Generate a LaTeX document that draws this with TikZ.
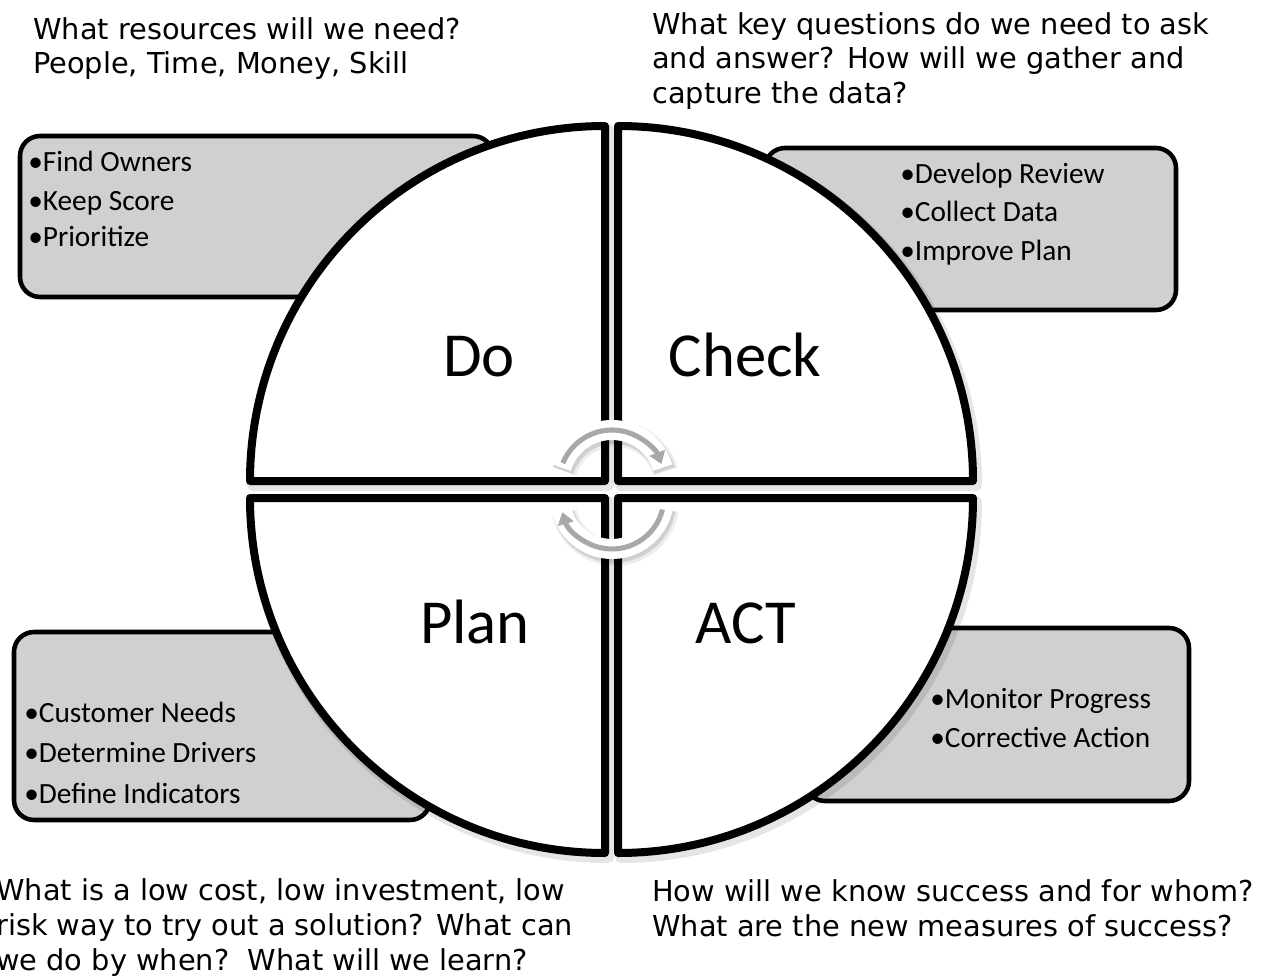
\documentclass[tikz,border=0pt]{standalone}
\usepackage{fontspec}
\setmainfont{Carlito}
\newfontfamily\verd{DejaVu Sans}
\usetikzlibrary{arrows.meta}
\definecolor{boxgray}{RGB}{208,208,208}
\definecolor{arrgray}{RGB}{168,168,168}
\begin{document}
\begin{tikzpicture}[x=0.75pt,y=-0.75pt,
  boxstyle/.style={draw=black, line width=3.4pt, fill=boxgray, rounded corners=15pt},
  quad/.style={draw=black, line width=6pt, fill=white, line join=round},
  quadshadow/.style={draw=black, line width=9pt, opacity=0.10, line join=round},
  qtext/.style={font=\verd\fontsize{21.6}{26}\selectfont, anchor=base west, inner sep=0pt},
  btext/.style={font=\fontsize{22}{27}\selectfont, anchor=base west, inner sep=0pt},
  biglabel/.style={font=\fontsize{47}{56}\selectfont, anchor=base, inner sep=0pt},
  arrwhite/.style={draw=white, line width=15pt},
  arrshadowA/.style={draw=black, line width=19pt, opacity=0.07},
  arrshadowB/.style={draw=black, line width=16pt, opacity=0.12},
  arrline/.style={draw=arrgray, line width=3.8pt, -{Triangle[length=9pt,width=12pt]}},
]
\useasboundingbox[fill=white] (0,0) rectangle (1278,977);

% side boxes
\path[boxstyle] (20,136) rectangle (493,297);
\path[boxstyle] (765,148) rectangle (1176,310);
\path[boxstyle] (14,632) rectangle (430,820);
\path[boxstyle] (805,628) rectangle (1189,801);

% quadrant shadows
\begin{scope}[shift={(3,4)}]
\path[quadshadow] (605,481) -- (250,481) arc[start angle=180, end angle=270, radius=355] -- cycle;
\path[quadshadow] (618,481) -- (618,126) arc[start angle=270, end angle=360, radius=355] -- cycle;
\path[quadshadow] (605,498) -- (250,498) arc[start angle=180, end angle=90, radius=355] -- cycle;
\path[quadshadow] (618,498) -- (618,853) arc[start angle=90, end angle=0, radius=355] -- cycle;
\end{scope}

% quadrants
\path[quad] (605,481) -- (250,481) arc[start angle=180, end angle=270, radius=355] -- cycle;
\path[quad] (618,481) -- (618,126) arc[start angle=270, end angle=360, radius=355] -- cycle;
\path[quad] (605,498) -- (250,498) arc[start angle=180, end angle=90, radius=355] -- cycle;
\path[quad] (618,498) -- (618,853) arc[start angle=90, end angle=0, radius=355] -- cycle;

% quadrant labels
\node[biglabel] (do) at (479,376) {Do};
\node[biglabel] (check) at (745,376) {Check};
\node[biglabel] (plan) at (475,643) {Plan};
\node[biglabel] (act) at (746,643) {ACT};

% box texts
\node[btext] (d1) at (28,172) {•Find Owners};
\node[btext] (d2) at (28,210) {•Keep Score};
\node[btext] (d3) at (28,247) {•Prioritize};
\node[btext] (c1) at (900,184) {•Develop Review};
\node[btext] (c2) at (900,222) {•Collect Data};
\node[btext] (c3) at (900,260) {•Improve Plan};
\node[btext] (p1) at (24,722) {•Customer Needs};
\node[btext] (p2) at (24,762) {•Determine Drivers};
\node[btext] (p3) at (24,803) {•Define Indicators};
\node[btext] (a1) at (930,708) {•Monitor Progress};
\node[btext] (a2) at (930,747) {•Corrective Action};

% question texts
\node[qtext] (tl1) at (33,40) {What resources will we need?};
\node[qtext] (tl2) at (33,74) {People, Time, Money, Skill};
\node[qtext] (tr1) at (652,35) {What key questions do we need to ask};
\node[qtext] (tr2) at (652,69) {and answer? How will we gather and};
\node[qtext] (tr3) at (652,104) {capture the data?};
\node[qtext] (bl1) at (-4,900) {What is a low cost, low investment, low};
\node[qtext] (bl2) at (-4,935) {risk way to try out a solution? What can};
\node[qtext] (bl3) at (-4,970) {we do by when?\ \ What will we learn?};
\node[qtext] (br1) at (652,901) {How will we know success and for whom?};
\node[qtext] (br2) at (652,936) {What are the new measures of success?};

% centre cycle arrows
\coordinate (ct) at (612,483);
\coordinate (cb) at (612,497);
\path[arrshadowA] ([shift={(3,4)}]ct) ++(197:53) arc[start angle=197, end angle=343, radius=53];
\path[arrshadowA] ([shift={(3,4)}]cb) ++(10:52) arc[start angle=10, end angle=166, radius=52];
\path[arrshadowB] ([shift={(2,3)}]ct) ++(197:53) arc[start angle=197, end angle=343, radius=53];
\path[arrshadowB] ([shift={(2,3)}]cb) ++(10:52) arc[start angle=10, end angle=166, radius=52];
\path[arrwhite] (ct) ++(197:53) arc[start angle=197, end angle=343, radius=53];
\path[arrwhite] (cb) ++(10:52) arc[start angle=10, end angle=166, radius=52];
\path[arrline] (ct) ++(202:53) arc[start angle=202, end angle=339, radius=53];
\path[arrline] (cb) ++(14:52) arc[start angle=14, end angle=163, radius=52];
\end{tikzpicture}
\end{document}
